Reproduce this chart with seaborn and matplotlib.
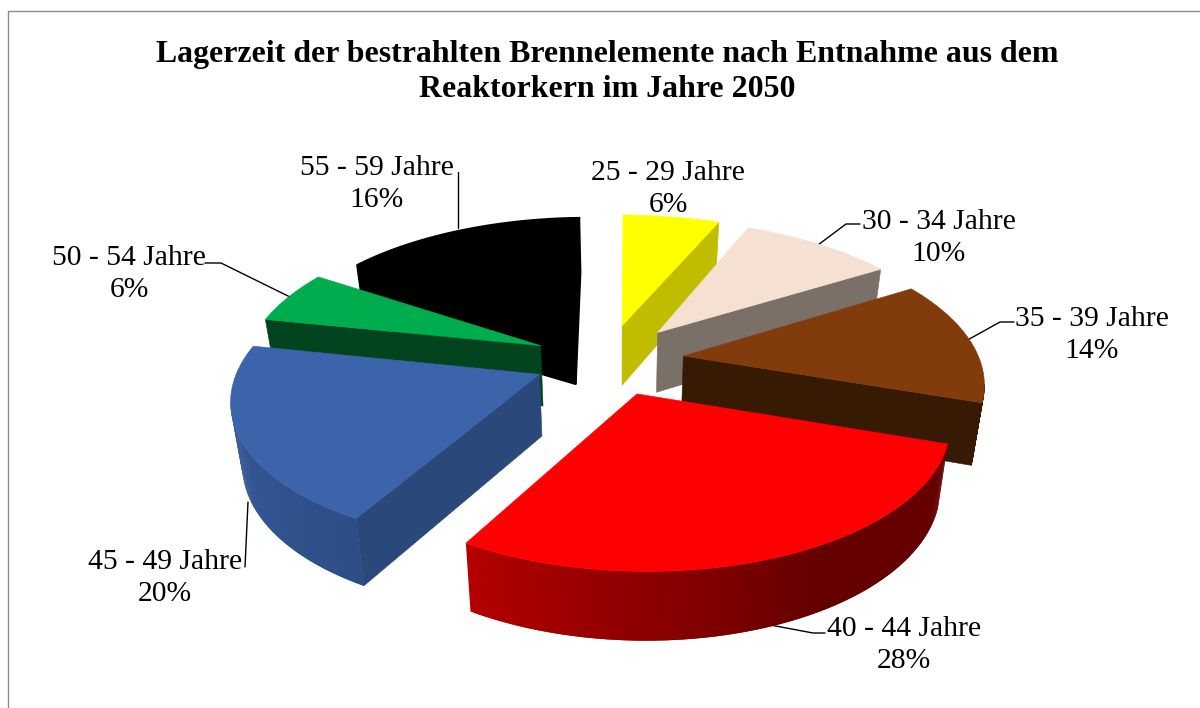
import numpy as np
import matplotlib
matplotlib.use("Agg")
import matplotlib.pyplot as plt
import matplotlib.colors as mcolors
import seaborn as sns

# --- data ---
categories = ["25 - 29 Jahre", "30 - 34 Jahre", "35 - 39 Jahre", "40 - 44 Jahre",
              "45 - 49 Jahre", "50 - 54 Jahre", "55 - 59 Jahre"]
shares = [6, 10, 14, 28, 20, 6, 16]
title = "Lagerzeit der bestrahlten Brennelemente nach Entnahme aus dem\nReaktorkern im Jahre 2050"

# --- styles ---
top_colors = sns.color_palette(["#FFFF00", "#F5E0D2", "#823B0A", "#FF0000", "#3B64AB", "#00AD4E", "#000000"])
wall_colors = sns.color_palette(["#C0BC00", "#7B7068", "#361A03", "#640000", "#2A4879", "#03441F", "#000000"])
rim_stops = {3: ([108, 150, 208.8], ["#640000", "#640000", "#B40000"]),
             4: ([208.8, 280.8], ["#2D4D85", "#3A60A5"])}
label_xy = [(668, 189), (939, 238), (1092, 335), (904, 645), (165, 578), (129, 274), (377, 184)]
leaders = [None,
           [(860, 224), (846, 224), (818, 245)],
           [(1014, 322), (1000, 322), (955, 347)],
           [(825, 633), (813, 633), (765, 624)],
           [(245, 567), (248, 502)],
           [(205, 263), (221, 263), (290, 297)],
           [(458, 172), (458, 228)]]
paint_order = [6, 0, 1, 2, 5, 4, 3]
explosion = 0.3
# fine placement of each slice in pixels: hub, first rim corner, last rim corner
hub_shift = [(1, 8), (-1, 7), (-7, 6), (0, 0), (16, 2), (15, 5), (9, 3)]
first_shift = [(1, 0), (5, 1), (4, 3), (3, 2), (21, 2), (7, 2), (1, 3)]
last_shift = [(9, 1), (9, 4), (-1, 10), (2, -4), (8, -1), (4, -1), (5, 0)]


def project(X, Y):
    """Tilted-plane perspective from the pie plane to the axes' pixel scale."""
    w = 1 + 0.175 * Y
    return (289.7 * X + 109.8 * Y + 604.5) / w, (-70.6 * Y + 355) / w, w


def drop(sx, sy, w):
    """Lower edge of the pie's side below a point of the top face."""
    return sx + (620 - sx) * 0.03, sy + 61 / np.sqrt(w)


sns.set_theme(style="white")
plt.rcParams["font.family"] = ["Liberation Serif", "DejaVu Serif"]
fig = plt.figure(figsize=(12, 7.08), dpi=100)
ax = fig.add_axes([0, 0, 1, 1])
ax.set_xlim(0, 1200)
ax.set_ylim(708, 0)
ax.axis("off")

ends = np.cumsum(shares) / np.sum(shares) * 360.0
starts = ends - np.array(shares) / np.sum(shares) * 360.0


def face(xs, ys, color, zorder, lw=0.4):
    ax.fill(xs, ys, facecolor=color, edgecolor=color, linewidth=lw, zorder=zorder)


z = 10
for i in paint_order:
    a0, a1 = starts[i], ends[i]
    mid = np.radians((a0 + a1) / 2)
    ox, oy = explosion * np.sin(mid), explosion * np.cos(mid)
    ang = np.linspace(a0, a1, max(int(a1 - a0) * 2, 8))
    rad = np.radians(ang)
    X = np.r_[ox, ox + np.sin(rad), ox]
    Y = np.r_[oy, oy + np.cos(rad), oy]
    tx, ty, w = project(X, Y)
    t = np.r_[0, (ang - a0) / (a1 - a0), 0]
    shift_x = first_shift[i][0] + (last_shift[i][0] - first_shift[i][0]) * t
    shift_y = first_shift[i][1] + (last_shift[i][1] - first_shift[i][1]) * t
    shift_x[[0, -1]] = hub_shift[i][0]
    shift_y[[0, -1]] = hub_shift[i][1]
    tx, ty = tx + shift_x, ty + shift_y
    bx, by = drop(tx, ty, w)
    n = len(X) - 1
    seam = 1.2 if i == 6 else 0.4  # the black slice must read as one solid shape
    for k in range(n):
        if tx[k + 1] - tx[k] >= 0:
            continue  # this side faces away from the viewer
        on_rim = 1 <= k < n - 1
        color = wall_colors[i]
        if on_rim and i in rim_stops:
            stops, cols = rim_stops[i]
            rgb = np.array([mcolors.to_rgb(c) for c in cols])
            am = (ang[k - 1] + ang[k]) / 2
            color = tuple(np.interp(am, stops, rgb[:, c]) for c in range(3))
            # each strip reaches under its neighbour so no seams show
            e = max(k - 1, 1)
            face(np.r_[tx[e:k + 2], bx[e:k + 2][::-1]], np.r_[ty[e:k + 2], by[e:k + 2][::-1]], color, z, lw=0)
            z += 0.001
            continue
        face([tx[k], tx[k + 1], bx[k + 1], bx[k]], [ty[k], ty[k + 1], by[k + 1], by[k]], color, z, lw=seam)
        z += 0.001
    z += 1
    face(tx, ty, top_colors[i], z, lw=seam)
    z += 1

for i, (lab, val) in enumerate(zip(categories, shares)):
    ax.text(label_xy[i][0], label_xy[i][1], f"{lab}\n{val}%", ha="center", va="center",
            fontsize=21.3, color="black", linespacing=1.31, zorder=60)
    if leaders[i]:
        lx, ly = zip(*leaders[i])
        ax.plot(lx, ly, color="black", lw=1.0, zorder=5)

ax.text(607, 72, title, ha="center", va="center", fontsize=22.95, fontweight="bold",
        color="black", linespacing=1.28, zorder=60)

ax.plot([7.5, 7.5, 1200], [708, 10.5, 10.5], color="#8c8c8c", lw=1.0, zorder=1)

fig.savefig("out.png", dpi=100, facecolor="white")
